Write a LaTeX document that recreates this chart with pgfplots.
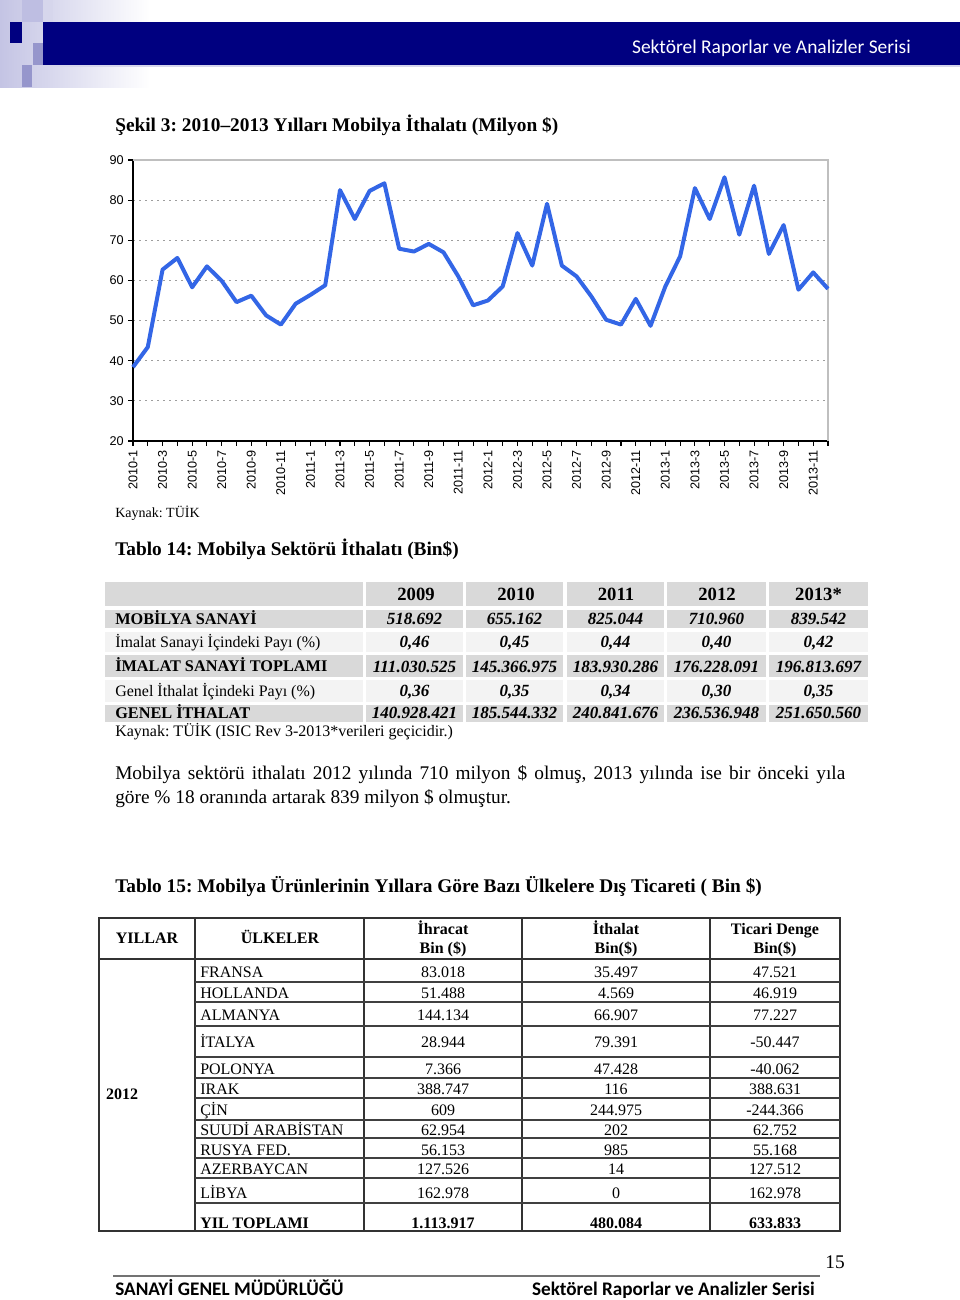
\documentclass[border=0pt]{standalone}
\usepackage{pgfplots}
\pgfplotsset{compat=1.18}
\usepackage{fontspec}
\setmainfont{Liberation Serif}
\newfontfamily\arial{Liberation Sans}
\newfontfamily\calibri{Carlito}
\definecolor{navy}{RGB}{0,0,128}
\definecolor{lav}{RGB}{196,196,228}
\definecolor{lavA}{RGB}{190,190,226}
\definecolor{lavB}{RGB}{214,214,236}
\definecolor{lavC}{RGB}{150,150,204}
\definecolor{lineblue}{RGB}{51,102,230}
\definecolor{gA}{RGB}{217,217,217}
\definecolor{gB}{RGB}{243,243,243}
\newcommand\fs[2]{\fontsize{#1}{#2}\selectfont}
\frenchspacing
\pgfplotstableread{
idx val
0 38.4
1 43.4
2 62.7
3 65.6
4 58.3
5 63.5
6 59.9
7 54.6
8 56.2
9 51.3
10 49.0
11 54.2
12 56.4
13 58.8
14 82.5
15 75.3
16 82.3
17 84.2
18 67.9
19 67.2
20 69.1
21 67.0
22 61.0
23 53.8
24 55.0
25 58.5
26 71.8
27 63.7
28 79.1
29 63.7
30 61.0
31 56.0
32 50.2
33 49.0
34 55.4
35 48.7
36 58.5
37 66.0
38 83.0
39 75.3
40 85.7
41 71.4
42 83.6
43 66.6
44 73.8
45 57.7
46 62.0
47 57.9
}\imports
\begin{document}
\begin{tikzpicture}
\path[use as bounding box] (0,0) rectangle (720pt,-975pt);
\begin{scope}[x=0.75pt,y=-0.75pt]
% ---------- page header ----------
\shade[left color=lav, right color=white] (0,0) rectangle (150,87);
\fill[lavA] (22,0) rectangle (43,22);
\fill[lavB] (43,0) rectangle (53,22);
\fill[navy] (10,22) rectangle (22,43);
\fill[lavC] (33,43) rectangle (43,65);
\fill[lavC] (22,65) rectangle (32,87);
\fill[navy] (43,22) rectangle (960,65);
\fill[lavB] (43,65) rectangle (960,66.5);
\node[anchor=base east, inner sep=0pt, text=white, font=\calibri\fs{14.6}{16}] at (911,53) {Sektörel Raporlar ve Analizler Serisi};
% ---------- chart title ----------
\node[anchor=base west, inner sep=0pt, font=\bfseries\fs{14.5}{17}] at (115,131) {Şekil 3: 2010–2013 Yılları Mobilya İthalatı (Milyon \$)};
\node[anchor=base west, inner sep=0pt, font=\fs{10.5}{13}] at (115,517) {Kaynak: TÜİK};
% ---------- Table 14 ----------
\node[anchor=base west, inner sep=0pt, font=\bfseries\fs{14.5}{17}] at (115,555) {Tablo 14: Mobilya Sektörü İthalatı (Bin\$)};
\foreach \ya/\yb/\col in {582/606/gA, 610/628/gA, 632/652/gB, 655/677/gA, 680/702/gB, 705/722/gA}{
  \foreach \xa/\xb in {105/363, 366/463, 466/563, 567/664, 667/766, 769/868}{
    \fill[\col] (\xa,\ya) rectangle (\xb,\yb);
  }
}
\foreach \x/\t in {416/2009, 516/2010, 616/2011, 717/2012, 818.5/2013*}{
  \node[anchor=base, inner sep=0pt, font=\bfseries\fs{14}{16}] at (\x,600) {\t};
}
\node[anchor=base west, inner sep=0pt, font=\bfseries\fs{12.2}{14}] at (115,624) {MOBİLYA SANAYİ};
\node[anchor=base west, inner sep=0pt, font=\fs{12}{14}] at (115,647) {İmalat Sanayi İçindeki Payı (\%)};
\node[anchor=base west, inner sep=0pt, font=\bfseries\fs{12.2}{14}] at (115,671) {İMALAT SANAYİ TOPLAMI};
\node[anchor=base west, inner sep=0pt, font=\fs{12}{14}] at (115,696) {Genel İthalat İçindeki Payı (\%)};
\node[anchor=base west, inner sep=0pt, font=\bfseries\fs{12.2}{14}] at (115,718) {GENEL İTHALAT};
\foreach \y/\a/\b/\c/\d/\e in {
  624/518.692/655.162/825.044/710.960/839.542,
  647/{0,46}/{0,45}/{0,44}/{0,40}/{0,42},
  672/111.030.525/145.366.975/183.930.286/176.228.091/196.813.697,
  696/{0,36}/{0,35}/{0,34}/{0,30}/{0,35},
  718/140.928.421/185.544.332/240.841.676/236.536.948/251.650.560}{
  \node[anchor=base, inner sep=0pt, font=\bfseries\itshape\fs{12.8}{14}] at (414.5,\y) {\a};
  \node[anchor=base, inner sep=0pt, font=\bfseries\itshape\fs{12.8}{14}] at (514.5,\y) {\b};
  \node[anchor=base, inner sep=0pt, font=\bfseries\itshape\fs{12.8}{14}] at (615.5,\y) {\c};
  \node[anchor=base, inner sep=0pt, font=\bfseries\itshape\fs{12.8}{14}] at (716.5,\y) {\d};
  \node[anchor=base, inner sep=0pt, font=\bfseries\itshape\fs{12.8}{14}] at (818.5,\y) {\e};
}
\node[anchor=base west, inner sep=0pt, font=\fs{12}{14}] at (115,736) {Kaynak: TÜİK (ISIC Rev 3-2013*verileri geçicidir.)};
% ---------- paragraph ----------
\node[anchor=base west, inner sep=0pt, font=\fs{14.5}{18}] at (115,779) {\makebox[547.5pt][s]{Mobilya sektörü ithalatı 2012 yılında 710 milyon \$ olmuş, 2013 yılında ise bir önceki yıla}};
\node[anchor=base west, inner sep=0pt, font=\fs{14.5}{18}] at (115,803) {göre \% 18 oranında artarak 839 milyon \$ olmuştur.};
% ---------- Table 15 ----------
\node[anchor=base west, inner sep=0pt, font=\bfseries\fs{14.5}{17}] at (115,892) {Tablo 15: Mobilya Ürünlerinin Yıllara Göre Bazı Ülkelere Dış Ticareti ( Bin \$)};
\draw[black!80, line width=1.2pt] (99,918) rectangle (840,1231);
\foreach \x in {195,364,522,710}{\draw[black!80, line width=1pt] (\x,918) -- (\x,1231);}
\draw[black!80, line width=1.6pt] (99,959) -- (840,959);
\foreach \y in {982,1002,1026,1057,1078,1098,1120,1138,1158,1178,1203}{\draw[black!75, line width=0.9pt] (195,\y) -- (840,\y);}
\node[anchor=base, inner sep=0pt, font=\bfseries\fs{12}{14}] at (147,943) {YILLAR};
\node[anchor=base, inner sep=0pt, font=\bfseries\fs{12}{14}] at (280,943) {ÜLKELER};
\node[anchor=base, inner sep=0pt, font=\bfseries\fs{12}{14}] at (443,934) {İhracat};
\node[anchor=base, inner sep=0pt, font=\bfseries\fs{12}{14}] at (443,953) {Bin (\$)};
\node[anchor=base, inner sep=0pt, font=\bfseries\fs{12}{14}] at (616,934) {İthalat};
\node[anchor=base, inner sep=0pt, font=\bfseries\fs{12}{14}] at (616,953) {Bin(\$)};
\node[anchor=base, inner sep=0pt, font=\bfseries\fs{12}{14}] at (775,934) {Ticari Denge};
\node[anchor=base, inner sep=0pt, font=\bfseries\fs{12}{14}] at (775,953) {Bin(\$)};
\node[anchor=base, inner sep=0pt, font=\bfseries\fs{12}{14}] at (122,1099) {2012};
\foreach \y/\n/\a/\b/\c in {
  977/FRANSA/83.018/35.497/47.521,
  998/HOLLANDA/51.488/4.569/46.919,
  1020/ALMANYA/144.134/66.907/77.227,
  1047/İTALYA/28.944/79.391/-50.447,
  1074/POLONYA/7.366/47.428/-40.062,
  1094/IRAK/388.747/116/388.631,
  1115/ÇİN/609/244.975/-244.366,
  1135/SUUDİ ARABİSTAN/62.954/202/62.752,
  1155/RUSYA FED./56.153/985/55.168,
  1174/AZERBAYCAN/127.526/14/127.512,
  1198/LİBYA/162.978/0/162.978}{
  \node[anchor=base west, inner sep=0pt, font=\fs{12}{14}] at (200,\y) {\n};
  \node[anchor=base, inner sep=0pt, font=\fs{12}{14}] at (443,\y) {\a};
  \node[anchor=base, inner sep=0pt, font=\fs{12}{14}] at (616,\y) {\b};
  \node[anchor=base, inner sep=0pt, font=\fs{12}{14}] at (775,\y) {\c};
}
\node[anchor=base west, inner sep=0pt, font=\bfseries\fs{12}{14}] at (200,1228) {YIL TOPLAMI};
\node[anchor=base, inner sep=0pt, font=\bfseries\fs{12}{14}] at (443,1228) {1.113.917};
\node[anchor=base, inner sep=0pt, font=\bfseries\fs{12}{14}] at (616,1228) {480.084};
\node[anchor=base, inner sep=0pt, font=\bfseries\fs{12}{14}] at (775,1228) {633.833};
% ---------- footer ----------
\node[anchor=base, inner sep=0pt, font=\fs{14.5}{17}] at (835,1268) {15};
\draw[black!55, line width=1.6pt] (113,1276) -- (820,1276);
\node[anchor=base west, inner sep=0pt, font=\calibri\bfseries\fs{14.4}{16}] at (115,1295) {SANAYİ GENEL MÜDÜRLÜĞÜ};
\node[anchor=base east, inner sep=0pt, font=\calibri\bfseries\fs{14.4}{16}] at (815,1295) {Sektörel Raporlar ve Analizler Serisi};
\end{scope}
% ---------- chart ----------
\begin{axis}[
  at={(99.75pt,-330.75pt)}, anchor=south west,
  scale only axis, width=521.25pt, height=210.75pt,
  xmin=0, xmax=47, ymin=20, ymax=90,
  axis x line*=bottom, axis y line*=left,
  axis line style={black, line width=0.9pt, -},
  tick align=outside,
  major tick length=3.5pt, minor tick length=3.5pt,
  tick style={black, line width=0.8pt},
  xtick={0,2,...,46}, minor xtick={1,3,...,47},
  xticklabels={2010-1,2010-3,2010-5,2010-7,2010-9,2010-11,2011-1,2011-3,2011-5,2011-7,2011-9,2011-11,2012-1,2012-3,2012-5,2012-7,2012-9,2012-11,2013-1,2013-3,2013-5,2013-7,2013-9,2013-11},
  xticklabel style={rotate=90, anchor=east, font=\arial\fs{9.5}{10}},
  ytick={20,30,...,90},
  yticklabel style={font=\arial\fs{9.5}{10}},
  /pgf/number format/assume math mode=true,
  ymajorgrids, major grid style={black!38, line width=0.9pt, dash pattern=on 1.3pt off 3.2pt},
  clip=false,
]
\draw[black!25, line width=0.9pt] (rel axis cs:0,1) -- (rel axis cs:1,1) -- (rel axis cs:1,0);
\addplot[lineblue, line width=3pt, line join=round] table[x=idx, y=val] {\imports};
\end{axis}
\end{tikzpicture}
\end{document}
